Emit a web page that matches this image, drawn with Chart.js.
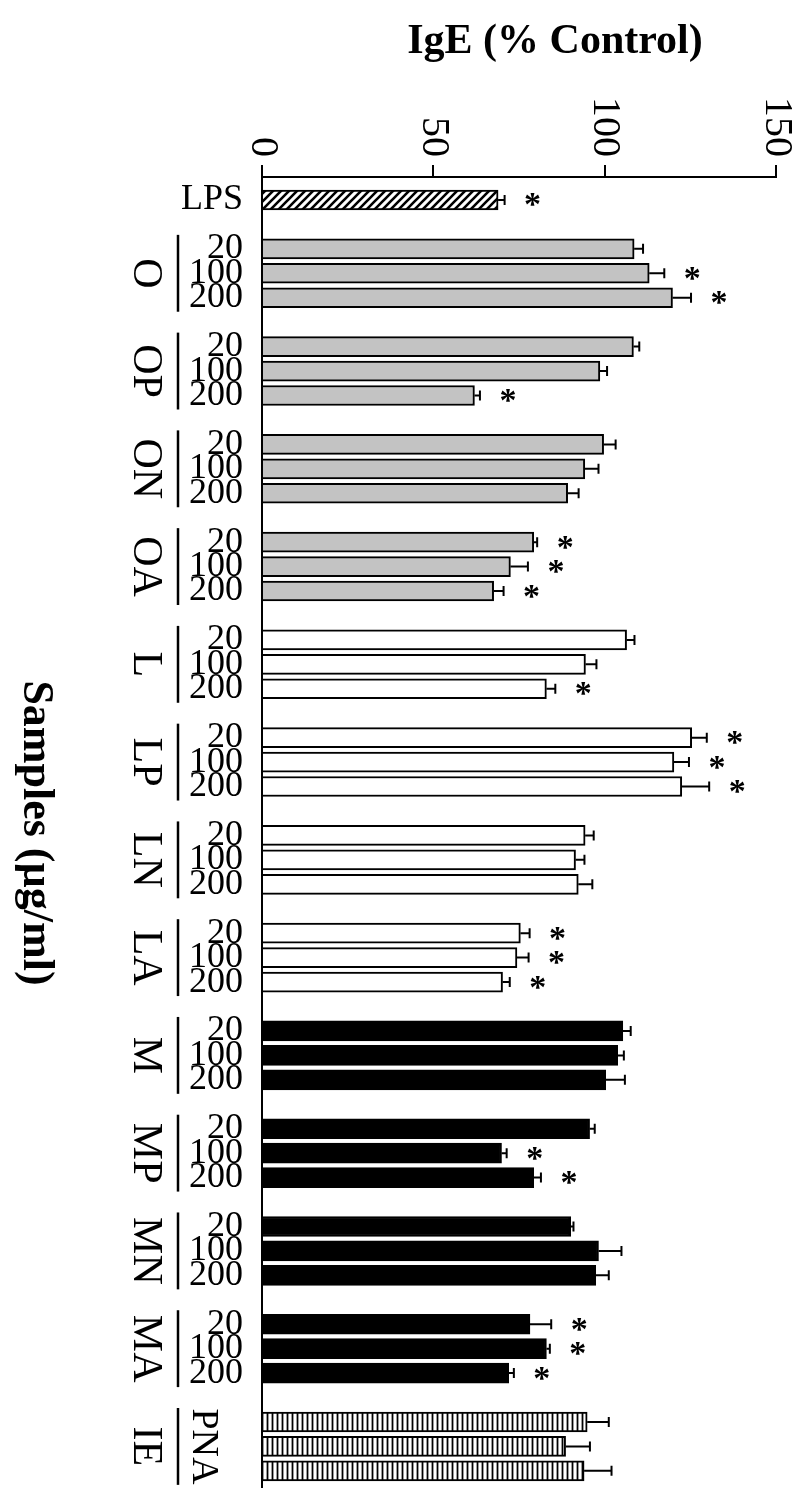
<!DOCTYPE html>
<html lang="en">

<head>
    <meta charset="UTF-8">
    <title>IgE (% Control)</title>
    <script src="https://cdn.jsdelivr.net/npm/chart.js"></script>
    <style>
        body {
            margin: 0;
            background: #ffffff;
        }

        .chart-container {
            position: relative;
            width: 800px;
            height: 1497px;
        }
    </style>
</head>

<body>
    <div class="chart-container">
        <canvas id="igeChart"></canvas>
    </div>

    <script>
        // data
        const groupNames = ['O', 'OP', 'ON', 'OA', 'L', 'LP', 'LN', 'LA', 'M', 'MP', 'MN', 'MA', 'IE'];
        const doseLabels = ['20', '100', '200'];
        const xTickValues = [0, 50, 100, 150];

        const lpsMean = 68.9;
        const lpsError = 1.9;
        const lpsSignificant = true;

        const groupMeans = [
            [108.6, 113.0, 119.8],
            [108.4, 98.6, 62.0],
            [99.7, 94.2, 89.2],
            [79.3, 72.5, 67.6],
            [106.4, 94.4, 83.0],
            [125.4, 120.2, 122.5],
            [94.3, 91.5, 92.3],
            [75.4, 74.4, 70.2],
            [105.3, 103.8, 100.3],
            [95.6, 69.9, 79.3],
            [90.1, 98.2, 97.4],
            [78.2, 83.0, 72.0],
            [94.9, 88.6, 94.0]
        ];
        const groupErrors = [
            [2.6, 4.4, 5.4],
            [1.7, 2.1, 1.6],
            [3.5, 4.0, 3.2],
            [1.0, 5.1, 2.9],
            [2.3, 3.2, 2.6],
            [4.4, 4.4, 8.0],
            [2.5, 2.6, 4.1],
            [2.7, 3.4, 2.1],
            [2.3, 1.8, 5.6],
            [1.5, 1.5, 2.1],
            [0.8, 6.7, 3.8],
            [6.2, 1.0, 1.5],
            [6.3, 7.1, 8.0]
        ];
        const groupSignificant = [
            [0, 1, 1], [0, 0, 1], [0, 0, 0], [1, 1, 1],
            [0, 0, 1], [1, 1, 1], [0, 0, 0], [1, 1, 1],
            [0, 0, 0], [0, 1, 1], [0, 0, 0], [1, 1, 1],
            [0, 0, 0]
        ];
        const groupFill = ['gray', 'gray', 'gray', 'gray', 'white', 'white', 'white', 'white',
            'black', 'black', 'black', 'black', 'stripe'];

        // fill patterns
        function makePattern(size, drawTile) {
            const c = document.createElement('canvas');
            c.width = size;
            c.height = size;
            const g = c.getContext('2d');
            g.fillStyle = '#ffffff';
            g.fillRect(0, 0, size, size);
            g.strokeStyle = '#000000';
            drawTile(g, size);
            return document.createElement('canvas').getContext('2d').createPattern(c, 'repeat');
        }

        const hatchFill = makePattern(8, function (g, s) {
            g.lineWidth = 2.6;
            g.beginPath();
            g.moveTo(0, s); g.lineTo(s, 0);
            g.moveTo(-2, 2); g.lineTo(2, -2);
            g.moveTo(s - 2, s + 2); g.lineTo(s + 2, s - 2);
            g.stroke();
        });
        const stripeFill = makePattern(5, function (g, s) {
            g.lineWidth = 1.8;
            g.beginPath();
            g.moveTo(2.5, 0); g.lineTo(2.5, s);
            g.stroke();
        });
        const fills = { gray: '#c3c3c3', white: '#ffffff', black: '#000000', stripe: stripeFill };

        // rows of the sample axis: LPS, a gap, then three doses per group with gaps between
        const rowLabels = ['LPS', ''];
        const bars = [{ x: lpsMean, y: 1, err: lpsError, sig: lpsSignificant, fill: hatchFill }];
        groupNames.forEach(function (name, gi) {
            doseLabels.forEach(function (dose, di) {
                rowLabels.push(name === 'IE' ? '' : dose);
                bars.push({
                    x: groupMeans[gi][di],
                    y: rowLabels.length,
                    err: groupErrors[gi][di],
                    sig: groupSignificant[gi][di] === 1,
                    fill: fills[groupFill[gi]]
                });
            });
            if (gi < groupNames.length - 1) rowLabels.push('');
        });

        function drawRotated(ctx, text, x, y, font, align) {
            ctx.save();
            ctx.translate(x, y);
            ctx.rotate(Math.PI / 2);
            ctx.font = font;
            ctx.textAlign = align;
            ctx.textBaseline = 'middle';
            ctx.fillText(text, 0, 0);
            ctx.restore();
        }

        const extrasPlugin = {
            id: 'extras',
            afterDatasetsDraw(chart) {
                const ctx = chart.ctx;
                const xs = chart.scales.x;
                const meta = chart.getDatasetMeta(0);
                ctx.save();
                ctx.strokeStyle = '#000000';
                ctx.fillStyle = '#000000';
                ctx.lineWidth = 2;
                bars.forEach(function (b, i) {
                    const el = meta.data[i];
                    const end = xs.getPixelForValue(b.x + b.err);
                    ctx.beginPath();
                    ctx.moveTo(el.x, el.y);
                    ctx.lineTo(end, el.y);
                    ctx.moveTo(end, el.y - 5);
                    ctx.lineTo(end, el.y + 5);
                    ctx.stroke();
                    if (b.sig) {
                        ctx.font = 'bold 34px "Liberation Serif"';
                        ctx.textAlign = 'center';
                        ctx.textBaseline = 'alphabetic';
                        const m = ctx.measureText('*');
                        const base = el.y + (m.actualBoundingBoxAscent - m.actualBoundingBoxDescent) / 2;
                        ctx.fillText('*', end + 28, base);
                    }
                });
                ctx.restore();
            },
            afterDraw(chart) {
                const ctx = chart.ctx;
                const xs = chart.scales.x;
                const meta = chart.getDatasetMeta(0);
                ctx.save();
                ctx.fillStyle = '#000000';
                ctx.strokeStyle = '#000000';

                // title
                ctx.font = 'bold 42px "Liberation Serif"';
                ctx.textAlign = 'center';
                ctx.textBaseline = 'alphabetic';
                ctx.fillText('IgE (% Control)', 555, 53);

                // value tick labels, turned like the figure
                xTickValues.forEach(function (v) {
                    drawRotated(ctx, String(v), xs.getPixelForValue(v), 157, '40px "Liberation Serif"', 'right');
                });

                // group brackets and names
                ctx.lineWidth = 2.5;
                groupNames.forEach(function (name, gi) {
                    const first = meta.data[1 + gi * 3];
                    const last = meta.data[3 + gi * 3];
                    ctx.beginPath();
                    ctx.moveTo(178, first.y - 14);
                    ctx.lineTo(178, last.y + 14);
                    ctx.stroke();
                    const mid = (first.y + last.y) / 2;
                    drawRotated(ctx, name, 145, mid, '42px "Liberation Serif"', 'center');
                    if (name === 'IE') {
                        drawRotated(ctx, 'PNA', 203, mid, '38px "Liberation Serif"', 'center');
                    }
                });

                // sample axis title
                drawRotated(ctx, 'Samples (\u00b5g/ml)', 35, 833, 'bold 44px "Liberation Serif"', 'center');
                ctx.restore();
            }
        };

        const ctx = document.getElementById('igeChart').getContext('2d');
        const chart = new Chart(ctx, {
            type: 'bar',
            data: {
                datasets: [{
                    data: bars,
                    backgroundColor: bars.map(function (b) { return b.fill; }),
                    borderColor: '#000000',
                    borderWidth: 2,
                    barThickness: 20
                }]
            },
            options: {
                indexAxis: 'y',
                responsive: true,
                maintainAspectRatio: false,
                animation: false,
                layout: {
                    padding: { top: 0, right: 24, bottom: 10, left: 0 }
                },
                plugins: {
                    legend: { display: false },
                    tooltip: { enabled: false }
                },
                scales: {
                    x: {
                        type: 'linear',
                        position: 'top',
                        min: 0,
                        max: 150,
                        ticks: { stepSize: 50, display: false },
                        grid: {
                            drawOnChartArea: false,
                            drawTicks: true,
                            tickLength: 12,
                            color: '#000000',
                            lineWidth: 2
                        },
                        border: { display: true, color: '#000000', width: 2 },
                        afterFit: function (s) {
                            s.height = 177;
                            s.paddingLeft = 0;
                            s.paddingRight = 0;
                        }
                    },
                    y: {
                        type: 'linear',
                        reverse: true,
                        offset: false,
                        bounds: 'data',
                        min: 0.06,
                        max: 53.66,
                        afterBuildTicks: function (s) {
                            s.ticks = rowLabels.map(function (l, i) { return { value: i + 1 }; });
                        },
                        ticks: {
                            autoSkip: false,
                            padding: 19,
                            color: '#000000',
                            font: { family: '"Liberation Serif"', size: 36 },
                            callback: function (value) { return rowLabels[value - 1]; }
                        },
                        grid: { display: false, drawTicks: false, offset: false },
                        border: { display: true, color: '#000000', width: 2 },
                        afterFit: function (s) {
                            s.width = 262;
                            s.paddingTop = 0;
                            s.paddingBottom = 0;
                        }
                    }
                }
            },
            plugins: [extrasPlugin]
        });
    </script>
</body>

</html>
